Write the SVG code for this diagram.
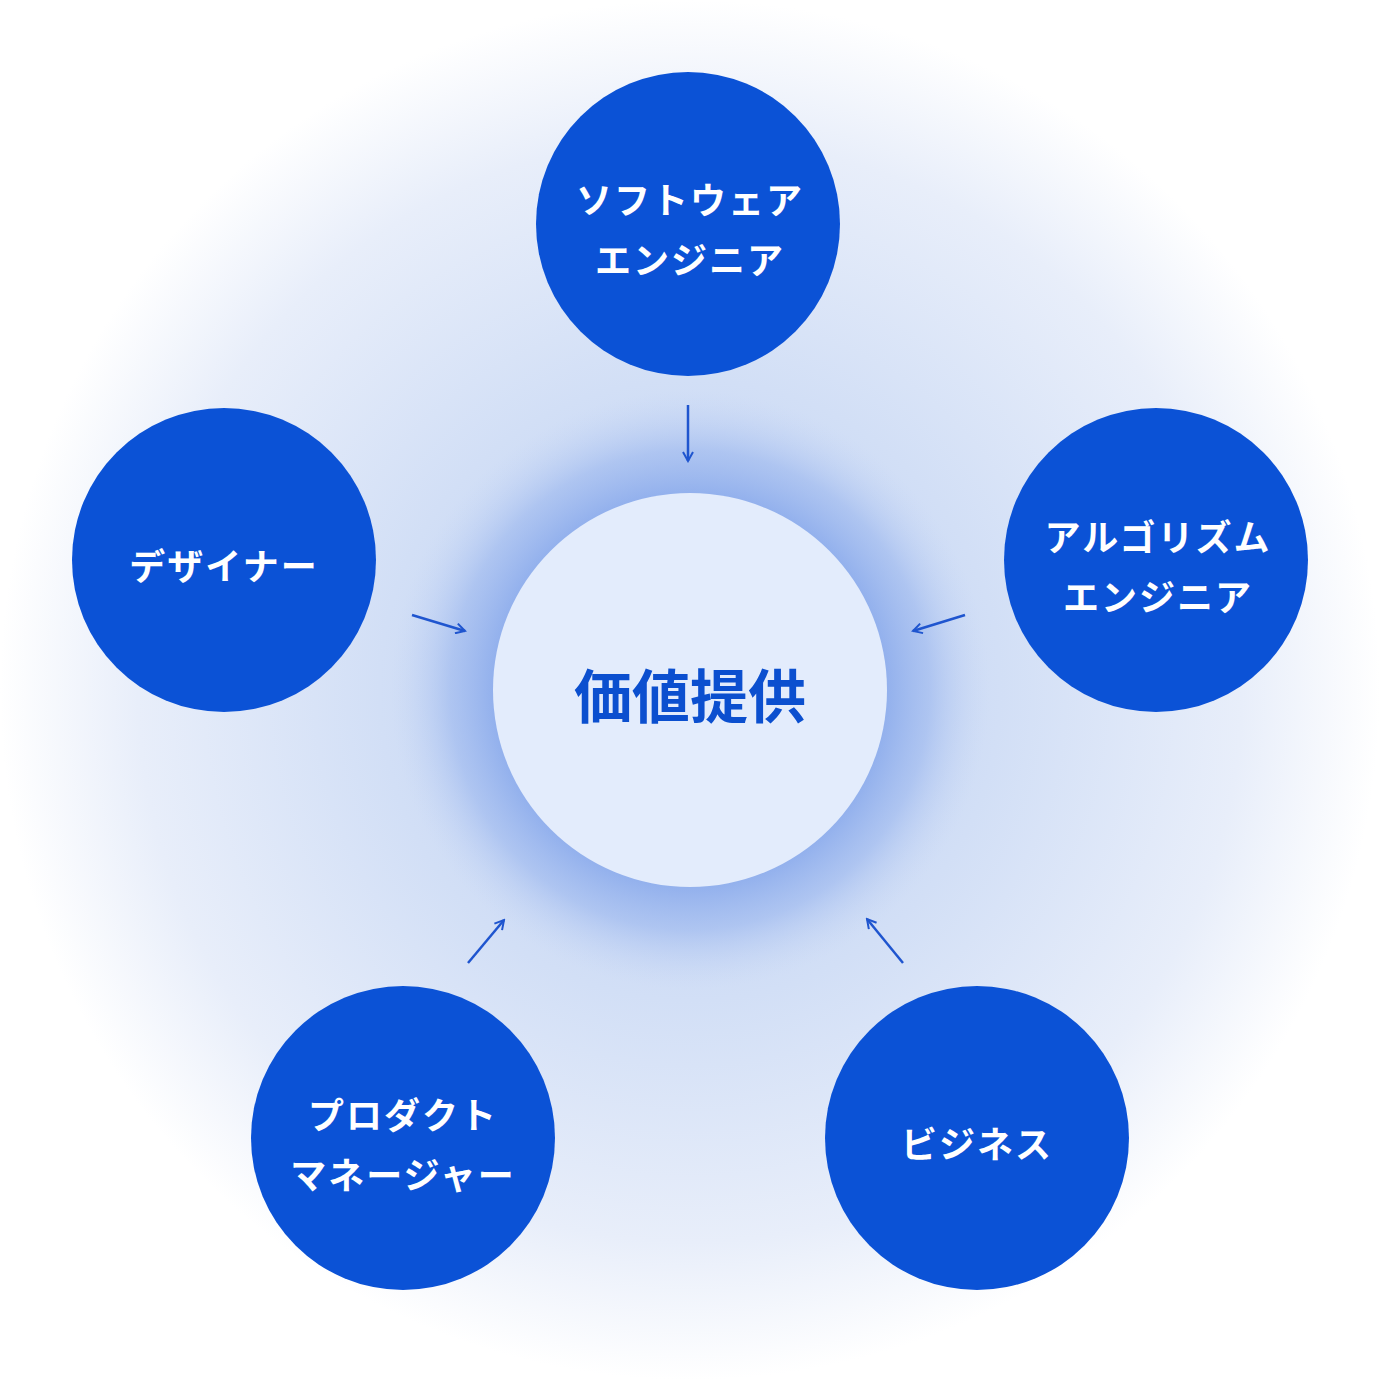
<svg xmlns="http://www.w3.org/2000/svg" width="1380" height="1380" viewBox="0 0 1380 1380">
<defs>
<radialGradient id="bg" cx="690" cy="690" r="690" gradientUnits="userSpaceOnUse">
<stop offset="0" stop-color="#b9cdf3"/>
<stop offset="0.45" stop-color="#d2dff6"/>
<stop offset="0.8" stop-color="#e8eefa"/>
<stop offset="1" stop-color="#ffffff"/>
</radialGradient>
<radialGradient id="halo" cx="690" cy="690" r="300" gradientUnits="userSpaceOnUse">
<stop offset="0.6" stop-color="#7fa2ea" stop-opacity="0.9"/>
<stop offset="0.8" stop-color="#9ab6ee" stop-opacity="0.6"/>
<stop offset="1" stop-color="#c5d5f4" stop-opacity="0"/>
</radialGradient>
<marker id="ah" viewBox="0 0 12 12" refX="10" refY="6" markerWidth="12" markerHeight="12" markerUnits="userSpaceOnUse" orient="auto">
<path d="M1,1 L10,6 L1,11" fill="none" stroke="#1f55cf" stroke-width="2"/>
</marker>
<style>
.n{fill:#0b52d6}
.t{font-family:"Noto Sans CJK JP",sans-serif;font-weight:700;font-size:36px;fill:#fff;text-anchor:middle;letter-spacing:2px}
.c{stroke:#1f55cf;stroke-width:2.5;fill:none;marker-end:url(#ah)}
</style>
</defs>
<rect width="1380" height="1380" fill="#fff"/>
<circle cx="690" cy="690" r="690" fill="url(#bg)"/>
<circle cx="690" cy="690" r="300" fill="url(#halo)"/>
<g id="connectors">
<line class="c" x1="688" y1="405" x2="688" y2="461"/>
<line class="c" x1="412" y1="615" x2="465" y2="631"/>
<line class="c" x1="965" y1="615" x2="913" y2="631"/>
<line class="c" x1="468" y1="963" x2="504" y2="920"/>
<line class="c" x1="903" y1="963" x2="867" y2="919"/>
</g>
<g id="center"><circle cx="690" cy="690" r="197" fill="#e3ecfc"/>
<text x="690" y="718" font-family="Noto Sans CJK JP,sans-serif" font-weight="700" font-size="58" fill="#0b4fcf" text-anchor="middle">価値提供</text></g>
<g id="software"><circle class="n" cx="688" cy="224" r="152"/>
<text class="t" x="690" y="214">ソフトウェア</text><text class="t" x="690" y="274">エンジニア</text></g>
<g id="designer"><circle class="n" cx="224" cy="560" r="152"/>
<text class="t" x="224" y="580">デザイナー</text></g>
<g id="algorithm"><circle class="n" cx="1156" cy="560" r="152"/>
<text class="t" x="1158" y="551">アルゴリズム</text><text class="t" x="1158" y="611">エンジニア</text></g>
<g id="pm"><circle class="n" cx="403" cy="1138" r="152"/>
<text class="t" x="403" y="1129">プロダクト</text><text class="t" x="403" y="1189">マネージャー</text></g>
<g id="business"><circle class="n" cx="977" cy="1138" r="152"/>
<text class="t" x="977" y="1158">ビジネス</text></g>
</svg>
